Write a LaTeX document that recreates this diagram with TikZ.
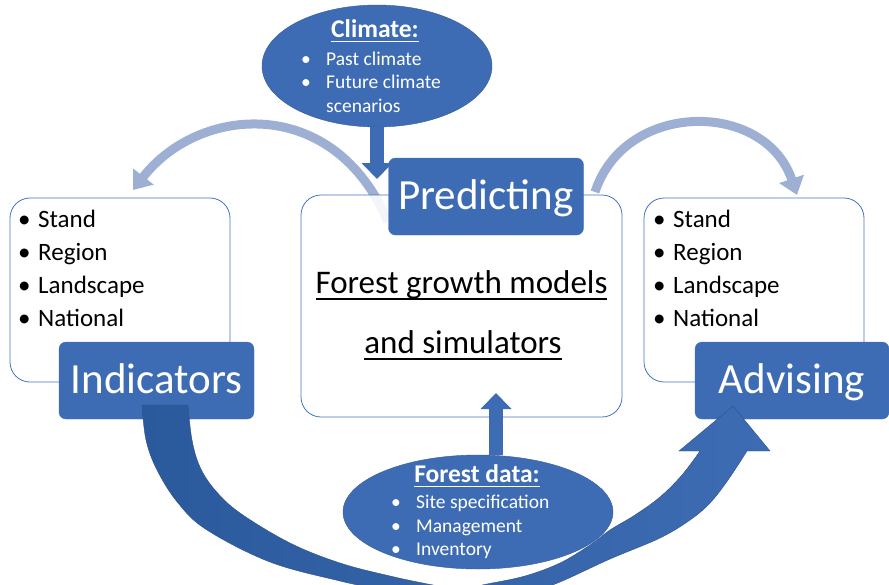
\documentclass[tikz,border=0pt]{standalone}
\usepackage{fontspec}
\setmainfont{Carlito}
\usetikzlibrary{shapes.geometric,arrows.meta}

\definecolor{boxblue}{RGB}{62,108,180}
\definecolor{edgeblue}{RGB}{68,114,196}
\definecolor{arcblue}{RGB}{158,175,212}
\definecolor{deepblue}{RGB}{42,90,156}
\newcommand{\undl}[1]{\setbox0\hbox{#1}\rlap{\rule[-0.2em]{\wd0}{0.06em}}\box0}

\tikzset{
  panel/.style={draw=edgeblue, fill=white, line width=0.8pt, rounded corners=20pt, minimum width=220pt, minimum height=184pt},
  tag/.style={draw=edgeblue, fill=boxblue, rounded corners=7pt, text=white, font=\fontsize{43}{50}\selectfont,
    minimum width=195pt, minimum height=77pt, inner sep=0pt, text height=25pt, text depth=0pt},
  bubble/.style={ellipse, draw=edgeblue!80!black, fill=boxblue, inner sep=0pt},
  listitem/.style={anchor=base west, inner sep=0pt, font=\fontsize{25}{30}\selectfont},
  smalltext/.style={anchor=base west, inner sep=0pt, text=white, font=\fontsize{19.5}{24}\selectfont},
  headtext/.style={anchor=base, inner sep=0pt, text=white, font=\fontsize{25.5}{30}\selectfont\bfseries},
  arcline/.style={draw=arcblue, line width=9pt, -{Triangle[width=25pt,length=17pt]}},
  pusharrow/.style={draw=boxblue, line width=14pt, -{Triangle[width=30pt,length=16pt]}},
}

\begin{document}
\begin{tikzpicture}[x=1pt,y=-1pt]
			\useasboundingbox (0,0) rectangle (889,584);
			
			% light arcs
			\coordinate (fadestart) at (388,222);
			\coordinate (lefttip) at (133,190);
			\coordinate (risestart) at (595,192);
			\coordinate (righttip) at (797,195);
			\draw[arcline] (fadestart) .. controls (335,95) and (200,104) .. (lefttip);
			\draw[arcline] (risestart) .. controls (625,100) and (765,100) .. (righttip);
			
			% panels
			\node[panel, fill opacity=0.88, minimum width=321pt, minimum height=222pt] (models) at (461.5,306) {};
			\node[panel] (leftpanel) at (120,290) {};
			\node[panel] (rightpanel) at (754,290) {};
			
			% climate
			\node[bubble, minimum width=230pt, minimum height=122pt] (climate) at (377,66) {};
			\coordinate (climtip) at (377,179);
			\draw[pusharrow] (climate.south) -- (climtip);
			
			\node[tag] (predicting) at (486,196.5) {Predicting};
			\node[tag] (indicators) at (156.5,380.5) {Indicators};
			\node[tag, minimum width=194pt] (advising) at (792,380.5) {Advising};
			
			% big curved arrow
			\shade[left color=deepblue, right color=boxblue, draw=edgeblue!70!black, line width=0.4pt]
			  plot[smooth, tension=0.6] coordinates {(142,405) (146,440) (157,470) (178,503) (207,530) (270,562) (340,581) (387,591) (420,600) (460,604) (500,600) (533,591) (560,582) (610,559) (660,538) (690,520) (710,503) (728,480) (747,451)}
			  -- (770,451) -- (733,406) -- (679,451) -- (700,451)
			  -- plot[smooth, tension=0.6] coordinates {(700,451) (682,475) (660,497) (635,515) (610,530) (590,545) (560,563) (525,576) (487,584) (460,589) (433,585) (390,576) (340,563) (290,543) (240,513) (215,490) (200,467) (192,440) (188,405)}
			  -- cycle;
			
			% forest data
			\node[bubble, minimum width=270pt, minimum height=114pt] (forest) at (478,512) {};
			\coordinate (datatip) at (496,393);
			\draw[pusharrow] (forest.north -| datatip) -- (datatip);
			
			% texts
			\node[listitem] (l1) at (18,227) {\makebox[20pt][l]{•}Stand};
			\node[listitem] (l2) at (18,260) {\makebox[20pt][l]{•}Region};
			\node[listitem] (l3) at (18,293) {\makebox[20pt][l]{•}Landscape};
			\node[listitem] (l4) at (18,326) {\makebox[20pt][l]{•}National};
			
			\node[listitem] (r1) at (653,227) {\makebox[20pt][l]{•}Stand};
			\node[listitem] (r2) at (653,260) {\makebox[20pt][l]{•}Region};
			\node[listitem] (r3) at (653,293) {\makebox[20pt][l]{•}Landscape};
			\node[listitem] (r4) at (653,326) {\makebox[20pt][l]{•}National};
			
			\node[anchor=base, inner sep=0pt, font=\fontsize{33}{40}\selectfont] (m1) at (461.5,293) {\undl{Forest growth models}};
			\node[anchor=base, inner sep=0pt, font=\fontsize{33}{40}\selectfont] (m2) at (463,353) {\undl{and simulators}};
			
			\node[headtext] (climhead) at (375,37) {\undl{Climate:}};
			\node[smalltext] (c1) at (301,65) {\makebox[25pt][l]{•}Past climate};
			\node[smalltext] (c2) at (301,88) {\makebox[25pt][l]{•}Future climate};
			\node[smalltext] (c3) at (301,112) {\hspace*{25pt}scenarios};
			
			\node[headtext] (datahead) at (477,482) {\undl{Forest data:}};
			\node[smalltext] (d1) at (391,508) {\makebox[25pt][l]{•}Site specification};
			\node[smalltext] (d2) at (391,532) {\makebox[25pt][l]{•}Management};
			\node[smalltext] (d3) at (391,555) {\makebox[25pt][l]{•}Inventory};
			
\end{tikzpicture}
\end{document}
